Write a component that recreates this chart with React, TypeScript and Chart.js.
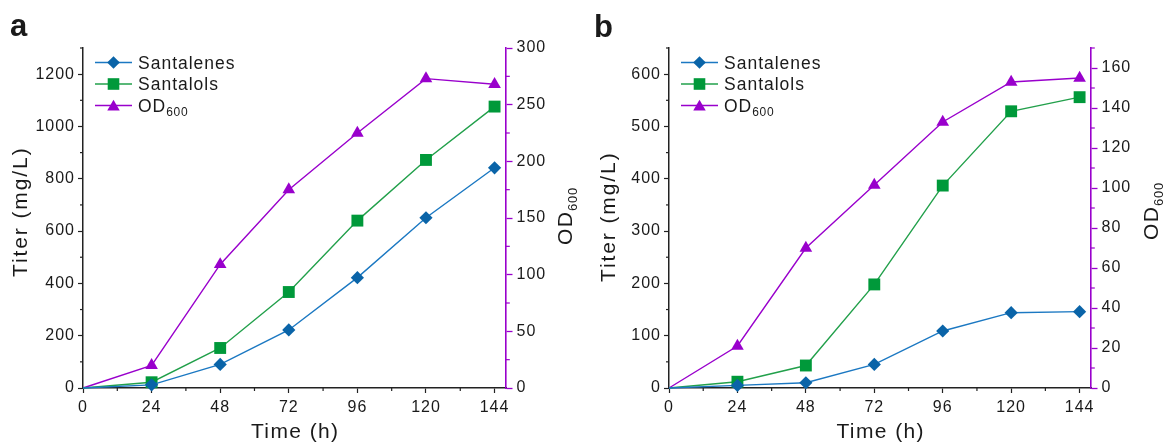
import React, { useEffect, useRef } from 'react';
import { Chart, registerables } from 'chart.js';

Chart.register(...registerables);

// ---------- data ----------
const times = [0, 24, 48, 72, 96, 120, 144];
const xTickLabels = [0, 24, 48, 72, 96, 120, 144];

const santalenesA = [0, 12, 90, 222, 422, 651, 842];
const santalolsA = [0, 22, 153, 367, 640, 872, 1076];
const odA = [0, 20, 109, 175, 225, 273, 268];
const leftTicksA = [0, 200, 400, 600, 800, 1000, 1200];
const rightTicksA = [0, 50, 100, 150, 200, 250, 300];

const santalenesB = [0, 5, 10, 45, 109, 144, 146];
const santalolsB = [0, 12, 43, 198, 387, 529, 556];
const odB = [0, 21, 70, 101.5, 133, 153, 155];
const leftTicksB = [0, 100, 200, 300, 400, 500, 600];
const rightTicksB = [0, 20, 40, 60, 80, 100, 120, 140, 160];

const seriesNames = ['Santalenes', 'Santalols', 'OD'];
const titleX = 'Time (h)';
const titleY = 'Titer (mg/L)';
const titleY1 = 'OD';
const subscript = '600';

// ---------- styles ----------
const FONT = "Arial, 'Liberation Sans', Helvetica, sans-serif";
const TEXT = '#1a1a1a';
const AXIS = '#222222';
const BLUE_LINE = '#1b78c2';
const BLUE_MK = '#0a64a8';
const GREEN_LINE = '#22a04b';
const GREEN_MK = '#00993a';
const PURPLE = '#9900cc';

type Cfg = {
  letter: string;
  left: number;
  width: number;
  leftW: number;
  rightW: number;
  santalenes: number[];
  santalols: number[];
  od: number[];
  yMax: number;
  yStep: number;
  yLabels: number[];
  y1Max: number;
  y1Step: number;
  y1Labels: number[];
  letterX: number;
  letterY: number;
  yTitleBaseX: number;
  yTitleStartY: number;
  odBaseOffset: number;
  odStartY: number;
};

function drawMarker(ctx: CanvasRenderingContext2D, kind: number, x: number, y: number) {
  ctx.beginPath();
  if (kind === 0) {
    const r = 6.3;
    ctx.moveTo(x, y - r);
    ctx.lineTo(x + r, y);
    ctx.lineTo(x, y + r);
    ctx.lineTo(x - r, y);
    ctx.closePath();
    ctx.fillStyle = BLUE_MK;
  } else if (kind === 1) {
    const s = 5.8;
    ctx.rect(x - s, y - s, 2 * s, 2 * s);
    ctx.fillStyle = GREEN_MK;
  } else {
    const r = 7.2;
    ctx.moveTo(x, y - r);
    ctx.lineTo(x + r * Math.sin((2 * Math.PI) / 3), y - r * Math.cos((2 * Math.PI) / 3));
    ctx.lineTo(x + r * Math.sin((4 * Math.PI) / 3), y - r * Math.cos((4 * Math.PI) / 3));
    ctx.closePath();
    ctx.fillStyle = PURPLE;
  }
  ctx.fill();
}

function Panel({ cfg }: { cfg: Cfg }) {
  const ref = useRef<HTMLCanvasElement>(null);

  useEffect(() => {
    const canvas = ref.current;
    if (!canvas) return;
    const mk = (vals: number[]) => times.map((t, i) => ({ x: t, y: vals[i] }));
    const radius = (r: number) => (c: any) => (c.dataIndex === 0 ? 0 : r);

    const tickFont = { family: FONT, size: 16 };
    const hideMinor = (color: string) => (c: any) =>
      c.tick && c.tick.label === '' ? 'rgba(0,0,0,0)' : color;

    const textPlugin = {
      id: 'panelText',
      beforeDraw(chart: any) {
        chart.ctx.letterSpacing = '1px';
      },
      afterDraw(chart: any) {
        const ctx: CanvasRenderingContext2D = chart.ctx;
        const ca = chart.chartArea;
        ctx.save();
        // minor ticks
        const drawMinor = (scale: any, len: number, color: string, kind: string) => {
          ctx.strokeStyle = color;
          ctx.lineWidth = 1.2;
          for (const t of scale.ticks) {
            if (t.label !== '') continue;
            const p = scale.getPixelForValue(t.value);
            ctx.beginPath();
            if (kind === 'x') {
              ctx.moveTo(p, ca.bottom);
              ctx.lineTo(p, ca.bottom + len);
            } else if (kind === 'y') {
              ctx.moveTo(ca.left - len, p);
              ctx.lineTo(ca.left, p);
            } else {
              ctx.moveTo(ca.right, p);
              ctx.lineTo(ca.right + len, p);
            }
            ctx.stroke();
          }
        };
        drawMinor(chart.scales.x, 3, AXIS, 'x');
        drawMinor(chart.scales.y, 3, AXIS, 'y');
        drawMinor(chart.scales.y1, 3.8, PURPLE, 'y1');

        ctx.fillStyle = TEXT;
        ctx.textBaseline = 'alphabetic';

        // panel letter
        ctx.letterSpacing = '0px';
        ctx.font = `bold 31px ${FONT}`;
        ctx.textAlign = 'left';
        ctx.fillText(cfg.letter, cfg.letterX, cfg.letterY);

        // x title
        ctx.font = `21px ${FONT}`;
        ctx.letterSpacing = '1.4px';
        const wX = ctx.measureText(titleX).width - 1.4;
        ctx.fillText(titleX, (ca.left + ca.right) / 2 - wX / 2, 438);

        // y title (rotated)
        ctx.save();
        ctx.translate(cfg.yTitleBaseX, cfg.yTitleStartY);
        ctx.rotate(-Math.PI / 2);
        ctx.letterSpacing = '1.9px';
        ctx.fillText(titleY, 0, 0);
        ctx.restore();

        // y1 title OD600 (rotated)
        ctx.save();
        ctx.translate(ca.right + cfg.odBaseOffset, cfg.odStartY);
        ctx.rotate(-Math.PI / 2);
        ctx.font = `21px ${FONT}`;
        ctx.letterSpacing = '1.5px';
        ctx.fillText(titleY1, 0, 0);
        const wOD = ctx.measureText(titleY1).width;
        ctx.font = `13px ${FONT}`;
        ctx.letterSpacing = '0.8px';
        ctx.fillText(subscript, wOD - 0.5, 5);
        ctx.restore();

        // legend
        const rows = [62.5, 84, 105.5];
        const lineCols = [BLUE_LINE, GREEN_LINE, PURPLE];
        rows.forEach((ry, i) => {
          ctx.strokeStyle = lineCols[i];
          ctx.lineWidth = 1.5;
          ctx.beginPath();
          ctx.moveTo(ca.left + 12, ry);
          ctx.lineTo(ca.left + 49, ry);
          ctx.stroke();
          drawMarker(ctx, i, ca.left + 30.5, i === 2 ? ry + 1.5 : ry);
          ctx.fillStyle = TEXT;
          ctx.font = `17.5px ${FONT}`;
          ctx.letterSpacing = '1px';
          const bx = ca.left + 55;
          const by = ry + 6.3;
          ctx.fillText(seriesNames[i], bx, by);
          if (i === 2) {
            const w = ctx.measureText(seriesNames[i]).width;
            ctx.font = `12px ${FONT}`;
            ctx.letterSpacing = '0.7px';
            ctx.fillText(subscript, bx + w, by + 4);
          }
        });
        ctx.restore();
      },
    };

    const chart = new Chart(canvas, {
      type: 'line',
      data: {
        datasets: [
          {
            label: seriesNames[0],
            data: mk(cfg.santalenes),
            yAxisID: 'y',
            borderColor: BLUE_LINE,
            backgroundColor: BLUE_MK,
            borderWidth: 1.4,
            pointStyle: 'rectRot',
            pointRadius: radius(6.6),
            pointBorderWidth: 0,
            clip: false,
          },
          {
            label: seriesNames[1],
            data: mk(cfg.santalols),
            yAxisID: 'y',
            borderColor: GREEN_LINE,
            backgroundColor: GREEN_MK,
            borderWidth: 1.4,
            pointStyle: 'rect',
            pointRadius: radius(8.4),
            pointBorderWidth: 0,
            clip: false,
          },
          {
            label: 'OD600',
            data: mk(cfg.od),
            yAxisID: 'y1',
            borderColor: PURPLE,
            backgroundColor: PURPLE,
            borderWidth: 1.4,
            pointStyle: 'triangle',
            pointRadius: radius(7.3),
            pointBorderWidth: 0,
            clip: false,
          },
        ] as any,
      },
      options: {
        animation: false,
        responsive: false,
        events: [],
        layout: { padding: { top: 48, left: 0, right: 0, bottom: 0 } },
        plugins: { legend: { display: false }, tooltip: { enabled: false } },
        scales: {
          x: {
            type: 'linear',
            min: 0,
            max: 148,
            afterFit: (s: any) => {
              s.height = 56;
            },
            ticks: {
              stepSize: 12,
              autoSkip: false,
              maxRotation: 0,
              includeBounds: false,
              padding: 5,
              font: tickFont,
              color: TEXT,
              callback: (v: any) => (xTickLabels.includes(v) ? String(v) : ''),
            },
            grid: {
              drawOnChartArea: false,
              drawTicks: true,
              tickLength: 5,
              tickWidth: 1.2,
              tickColor: hideMinor(AXIS),
            },
            border: { display: true, color: AXIS, width: 1.5 },
          },
          y: {
            type: 'linear',
            position: 'left',
            min: 0,
            max: cfg.yMax,
            afterFit: (s: any) => {
              s.width = cfg.leftW;
            },
            ticks: {
              stepSize: cfg.yStep,
              autoSkip: false,
              includeBounds: false,
              padding: 3,
              font: tickFont,
              color: TEXT,
              callback: (v: any) => (cfg.yLabels.includes(v) ? String(v) : ''),
            },
            grid: {
              drawOnChartArea: false,
              drawTicks: true,
              tickLength: 5,
              tickWidth: 1.2,
              tickColor: hideMinor(AXIS),
            },
            border: { display: true, color: AXIS, width: 1.5 },
          },
          y1: {
            type: 'linear',
            position: 'right',
            min: 0,
            max: cfg.y1Max,
            afterFit: (s: any) => {
              s.width = cfg.rightW;
            },
            ticks: {
              stepSize: cfg.y1Step,
              autoSkip: false,
              includeBounds: false,
              padding: 4,
              font: tickFont,
              color: TEXT,
              callback: (v: any) => (cfg.y1Labels.includes(v) ? String(v) : ''),
            },
            grid: {
              drawOnChartArea: false,
              drawTicks: true,
              tickLength: 6.5,
              tickWidth: 1.3,
              tickColor: hideMinor(PURPLE),
            },
            border: { display: true, color: PURPLE, width: 1.6 },
          },
        },
      } as any,
      plugins: [textPlugin],
    });
    return () => chart.destroy();
  }, [cfg]);

  return (
    <canvas
      ref={ref}
      width={cfg.width}
      height={444}
      style={{ position: 'absolute', left: cfg.left, top: 0, width: cfg.width, height: 444 }}
    />
  );
}

const panelA: Cfg = {
  letter: 'a',
  left: 0,
  width: 582,
  leftW: 83,
  rightW: 76,
  santalenes: santalenesA,
  santalols: santalolsA,
  od: odA,
  yMax: 1300,
  yStep: 100,
  yLabels: leftTicksA,
  y1Max: 300,
  y1Step: 25,
  y1Labels: rightTicksA,
  letterX: 10,
  letterY: 36,
  yTitleBaseX: 27,
  yTitleStartY: 277,
  odBaseOffset: 66,
  odStartY: 245,
};

const panelB: Cfg = {
  letter: 'b',
  left: 582,
  width: 583,
  leftW: 87,
  rightW: 74,
  santalenes: santalenesB,
  santalols: santalolsB,
  od: odB,
  yMax: 650,
  yStep: 50,
  yLabels: leftTicksB,
  y1Max: 170,
  y1Step: 10,
  y1Labels: rightTicksB,
  letterX: 12,
  letterY: 37,
  yTitleBaseX: 33,
  yTitleStartY: 282,
  odBaseOffset: 67,
  odStartY: 240,
};

export default function App() {
  return (
    <div
      style={{
        position: 'absolute',
        left: 0,
        top: 0,
        width: 1165,
        height: 444,
        background: '#ffffff',
        overflow: 'hidden',
      }}
    >
      <Panel cfg={panelA} />
      <Panel cfg={panelB} />
    </div>
  );
}
